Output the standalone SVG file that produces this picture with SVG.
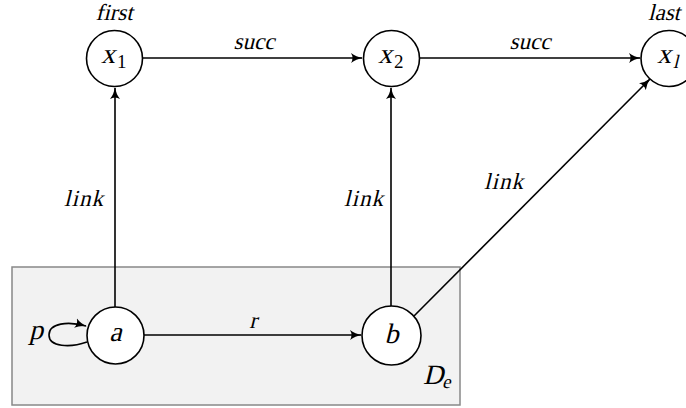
<svg xmlns="http://www.w3.org/2000/svg" width="686" height="408" viewBox="0 0 686 408">
<style>
.node{fill:#fff;stroke:#000;stroke-width:1.6}
.edge{fill:none;stroke:#000;stroke-width:1.6;marker-end:url(#arr)}
text{font-family:'Liberation Serif','Times New Roman',serif;font-style:normal;fill:#000;text-anchor:middle}
.lbl{font-size:23px}
.math{font-size:28px}
.sub{font-size:19px;text-anchor:start}
</style>
<defs>
<marker id="arr" viewBox="0 0 12 10" refX="11" refY="5" markerWidth="12" markerHeight="10" markerUnits="userSpaceOnUse" orient="auto">
<path d="M0,0 Q5,4 12,5 Q5,6 0,10 Q3,5 0,0 Z" fill="#000"/>
</marker>
</defs>
<rect x="12" y="267" width="448" height="138" fill="#f2f2f2" stroke="#888" stroke-width="1.5"/>
<text class="math" transform="translate(433,384) skewX(-14)" font-size="25">D</text>
<text class="sub" transform="translate(442,388) skewX(-14)" font-size="18">e</text>
<g id="connectors">
<path class="edge" d="M142,58 L362,58"/>
<path class="edge" d="M420,58 L640,58"/>
<path class="edge" d="M115,307 L115,88"/>
<path class="edge" d="M391,306 L391,88"/>
<path class="edge" d="M414,316 L650,79"/>
<path class="edge" d="M144,335 L361,335"/>
<path class="edge" d="M87,342 C70,348 49,347 49,335 C49,323 68,321 86,326"/>
<text class="lbl" transform="translate(254,49) skewX(-14)">succ</text>
<text class="lbl" transform="translate(530,49) skewX(-14)">succ</text>
<text class="lbl" transform="translate(84,206) skewX(-14)" letter-spacing="1">link</text>
<text class="lbl" transform="translate(364,206) skewX(-14)" letter-spacing="1">link</text>
<text class="lbl" transform="translate(504,189) skewX(-14)" letter-spacing="1">link</text>
<text class="lbl" transform="translate(253,328) skewX(-14)">r</text>
<text class="math" transform="translate(36,339) skewX(-14)" font-size="26">p</text>
</g>
<g id="x1">
<circle class="node" cx="114.5" cy="58.5" r="28"/>
<text class="lbl" transform="translate(114,20) skewX(-14)">first</text>
<text class="math" transform="translate(108,63) skewX(-14)">x</text>
<text class="sub" x="117" y="68">1</text>
</g>
<g id="x2">
<circle class="node" cx="391.5" cy="58.5" r="28"/>
<text class="math" transform="translate(385,63) skewX(-14)">x</text>
<text class="sub" x="394" y="68">2</text>
</g>
<g id="xl">
<circle class="node" cx="669" cy="58.5" r="28"/>
<text class="lbl" transform="translate(664,20) skewX(-14)" font-size="22">last</text>
<text class="math" transform="translate(664,63) skewX(-14)">x</text>
<text class="sub" transform="translate(673,68) skewX(-14)">l</text>
</g>
<g id="a">
<circle class="node" cx="115.5" cy="335.5" r="28.5"/>
<text class="math" transform="translate(115.5,341) skewX(-14)">a</text>
</g>
<g id="b">
<circle class="node" cx="391.5" cy="335.5" r="29.5"/>
<text class="math" transform="translate(391.5,343) skewX(-14)">b</text>
</g>
</svg>
